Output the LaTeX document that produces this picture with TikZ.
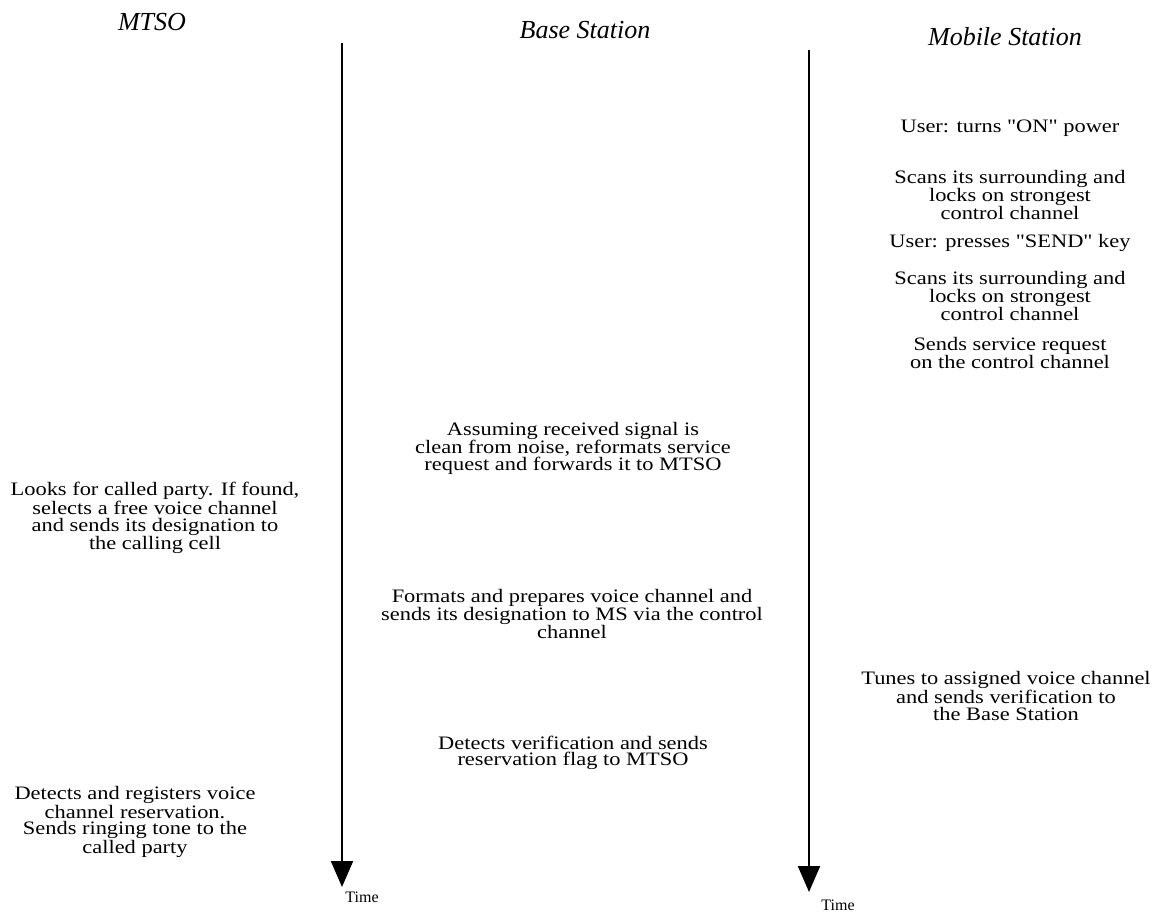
\documentclass[tikz,border=0pt]{standalone}
\usepackage{fontspec}
\setmainfont{Liberation Serif}
\newfontfamily\bodyfont[FakeStretch=1.18]{Liberation Serif}
\usetikzlibrary{arrows.meta}
\newcommand\dq{\symbol{34}}
\tikzset{
  lane/.style={line width=2pt, -{Triangle[width=22pt,length=26pt]}},
  head/.style={font=\fontsize{26}{28}\selectfont\itshape},
  msg/.style={align=center, font=\bodyfont\fontsize{19}{16.6}\selectfont, inner sep=0pt},
  tlabel/.style={font=\fontsize{16}{18}\selectfont, inner sep=0pt}
}
\begin{document}
\begin{tikzpicture}[x=1pt,y=-1pt]
\useasboundingbox (0,0) rectangle (1157,914);
% column headings
\node[head] (hm) at (152,22) {MTSO};
\node[head] (hb) at (585,30) {Base Station};
\node[head] (hs) at (1005,37) {Mobile Station};
% time axes
\coordinate (a1s) at (342,43);
\coordinate (a1e) at (342,887);
\coordinate (a2s) at (809,50);
\coordinate (a2e) at (809,892);
\draw[lane] (a1s) -- (a1e);
\draw[lane] (a2s) -- (a2e);
\node[tlabel] (t1) at (362,897) {Time};
\node[tlabel] (t2) at (838,905) {Time};
% mobile station events
\node[msg] (m1) at (1010,128) {User: turns \dq ON\dq{} power};
\node[msg] (m2) at (1010,195) {Scans its surrounding and\\locks on strongest\\control channel};
\node[msg] (m3) at (1010,243) {User: presses \dq SEND\dq{} key};
\node[msg] (m4) at (1010,296) {Scans its surrounding and\\locks on strongest\\control channel};
\node[msg] (m5) at (1010,353) {Sends service request\\on the control channel};
\node[msg] (m6) at (1006,696) {Tunes to assigned voice channel\\and sends verification to\\the Base Station};
% base station events
\node[msg] (b1) at (573,448) {Assuming received signal is\\clean from noise, reformats service\\request and forwards it to MTSO};
\node[msg] (b2) at (572,614) {Formats and prepares voice channel and\\sends its designation to MS via the control\\channel};
\node[msg] (b3) at (573,753) {Detects verification and sends\\reservation flag to MTSO};
% MTSO events
\node[msg] (c1) at (155,518) {Looks for called party. If found,\\selects a free voice channel\\and sends its designation to\\the calling cell};
\node[msg] (c2) at (135,822) {Detects and registers voice\\channel reservation.\\Sends ringing tone to the\\called party};
\end{tikzpicture}
\end{document}
